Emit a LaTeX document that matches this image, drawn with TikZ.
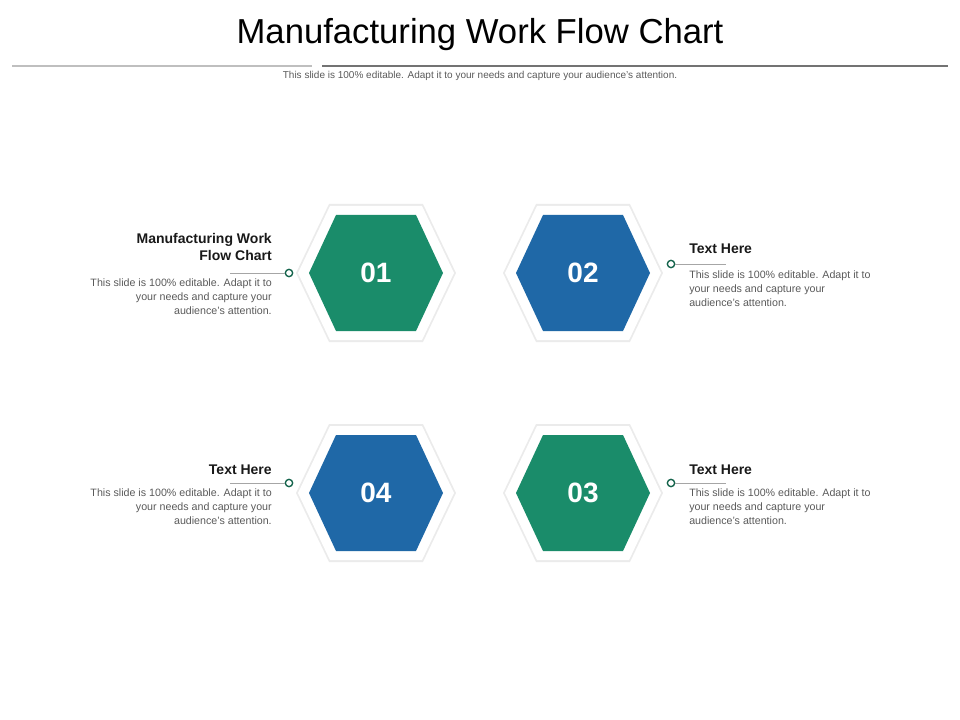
\documentclass[tikz,border=0pt]{standalone}
\usepackage{fontspec}
\setmainfont{Liberation Sans}
\usepackage{tikz}
\definecolor{hexgreen}{RGB}{26,140,106}
\definecolor{hexblue}{RGB}{31,104,167}
\definecolor{bodygray}{RGB}{90,90,90}
\tikzset{
  heading/.style={font=\fontsize{10.5}{13}\selectfont\bfseries,text=black!90,inner sep=0pt},
  body/.style={font=\fontsize{8}{10.5}\selectfont,text=bodygray,inner sep=0pt},
  num/.style={font=\fontsize{21}{24}\selectfont\bfseries,text=white},
  dot/.style={circle,draw=hexgreen!70!black,line width=1pt,fill=white,inner sep=0pt,minimum size=5.5pt},
  lead/.style={draw=black!35,line width=0.6pt}
}
\newcommand{\hexa}[3]{% center x, center y, color
  \fill[black!8] (#1-80,#2) -- (#1-47,#2-69) -- (#1+47,#2-69) -- (#1+80,#2) -- (#1+47,#2+69) -- (#1-47,#2+69) -- cycle;
  \fill[white] (#1-78,#2) -- (#1-46,#2-67) -- (#1+46,#2-67) -- (#1+78,#2) -- (#1+46,#2+67) -- (#1-46,#2+67) -- cycle;
  \fill[#3] (#1-67,#2) -- (#1-40,#2-58) -- (#1+40,#2-58) -- (#1+67,#2) -- (#1+40,#2+58) -- (#1-40,#2+58) -- cycle;
}
\begin{document}
\begin{tikzpicture}[x=0.75pt,y=-0.75pt]
        \useasboundingbox (0,0) rectangle (960,720);
        % title
        \node[font=\fontsize{26}{30}\selectfont] (title) at (480,35) {Manufacturing Work Flow Chart};
        \draw[black!25,line width=1.5pt] (12,66) -- (312,66);
        \draw[black!55,line width=1.5pt] (322,66) -- (948,66);
        \node[body,font=\fontsize{7.5}{9}\selectfont] (sub) at (480,76) {This slide is 100\% editable. Adapt it to your needs and capture your audience's attention.};
        % hexagons
        \hexa{376}{273}{hexgreen}
        \hexa{583}{273}{hexblue}
        \hexa{376}{493}{hexblue}
        \hexa{583}{493}{hexgreen}
        \node[num] (n1) at (376,273) {01};
        \node[num] (n2) at (583,273) {02};
        \node[num] (n4) at (376,493) {04};
        \node[num] (n3) at (583,493) {03};
        % connectors
        \coordinate (e1) at (230,273);
        \coordinate (e2) at (726,264);
        \coordinate (e4) at (230,483);
        \coordinate (e3) at (726,483);
        \node[dot] (d1) at (289,273) {};
        \node[dot] (d2) at (671,264) {};
        \node[dot] (d4) at (289,483) {};
        \node[dot] (d3) at (671,483) {};
        \draw[lead] (d1) -- (e1);
        \draw[lead] (d2) -- (e2);
        \draw[lead] (d4) -- (e4);
        \draw[lead] (d3) -- (e3);
        % texts
        \node[heading,anchor=north east,align=right] (h1) at (272,233) {Manufacturing Work\\Flow Chart};
        \node[body,anchor=north east,align=right] (b1) at (272,279) {This slide is 100\% editable. Adapt it to\\your needs and capture your\\audience's attention.};
        \node[heading,anchor=west] (h2) at (689,249) {Text Here};
        \node[body,anchor=north west,align=left] (b2) at (689,271) {This slide is 100\% editable. Adapt it to\\your needs and capture your\\audience's attention.};
        \node[heading,anchor=east] (h4) at (272,470) {Text Here};
        \node[body,anchor=north east,align=right] (b4) at (272,489) {This slide is 100\% editable. Adapt it to\\your needs and capture your\\audience's attention.};
        \node[heading,anchor=west] (h3) at (689,470) {Text Here};
        \node[body,anchor=north west,align=left] (b3) at (689,489) {This slide is 100\% editable. Adapt it to\\your needs and capture your\\audience's attention.};
\end{tikzpicture}
\end{document}
